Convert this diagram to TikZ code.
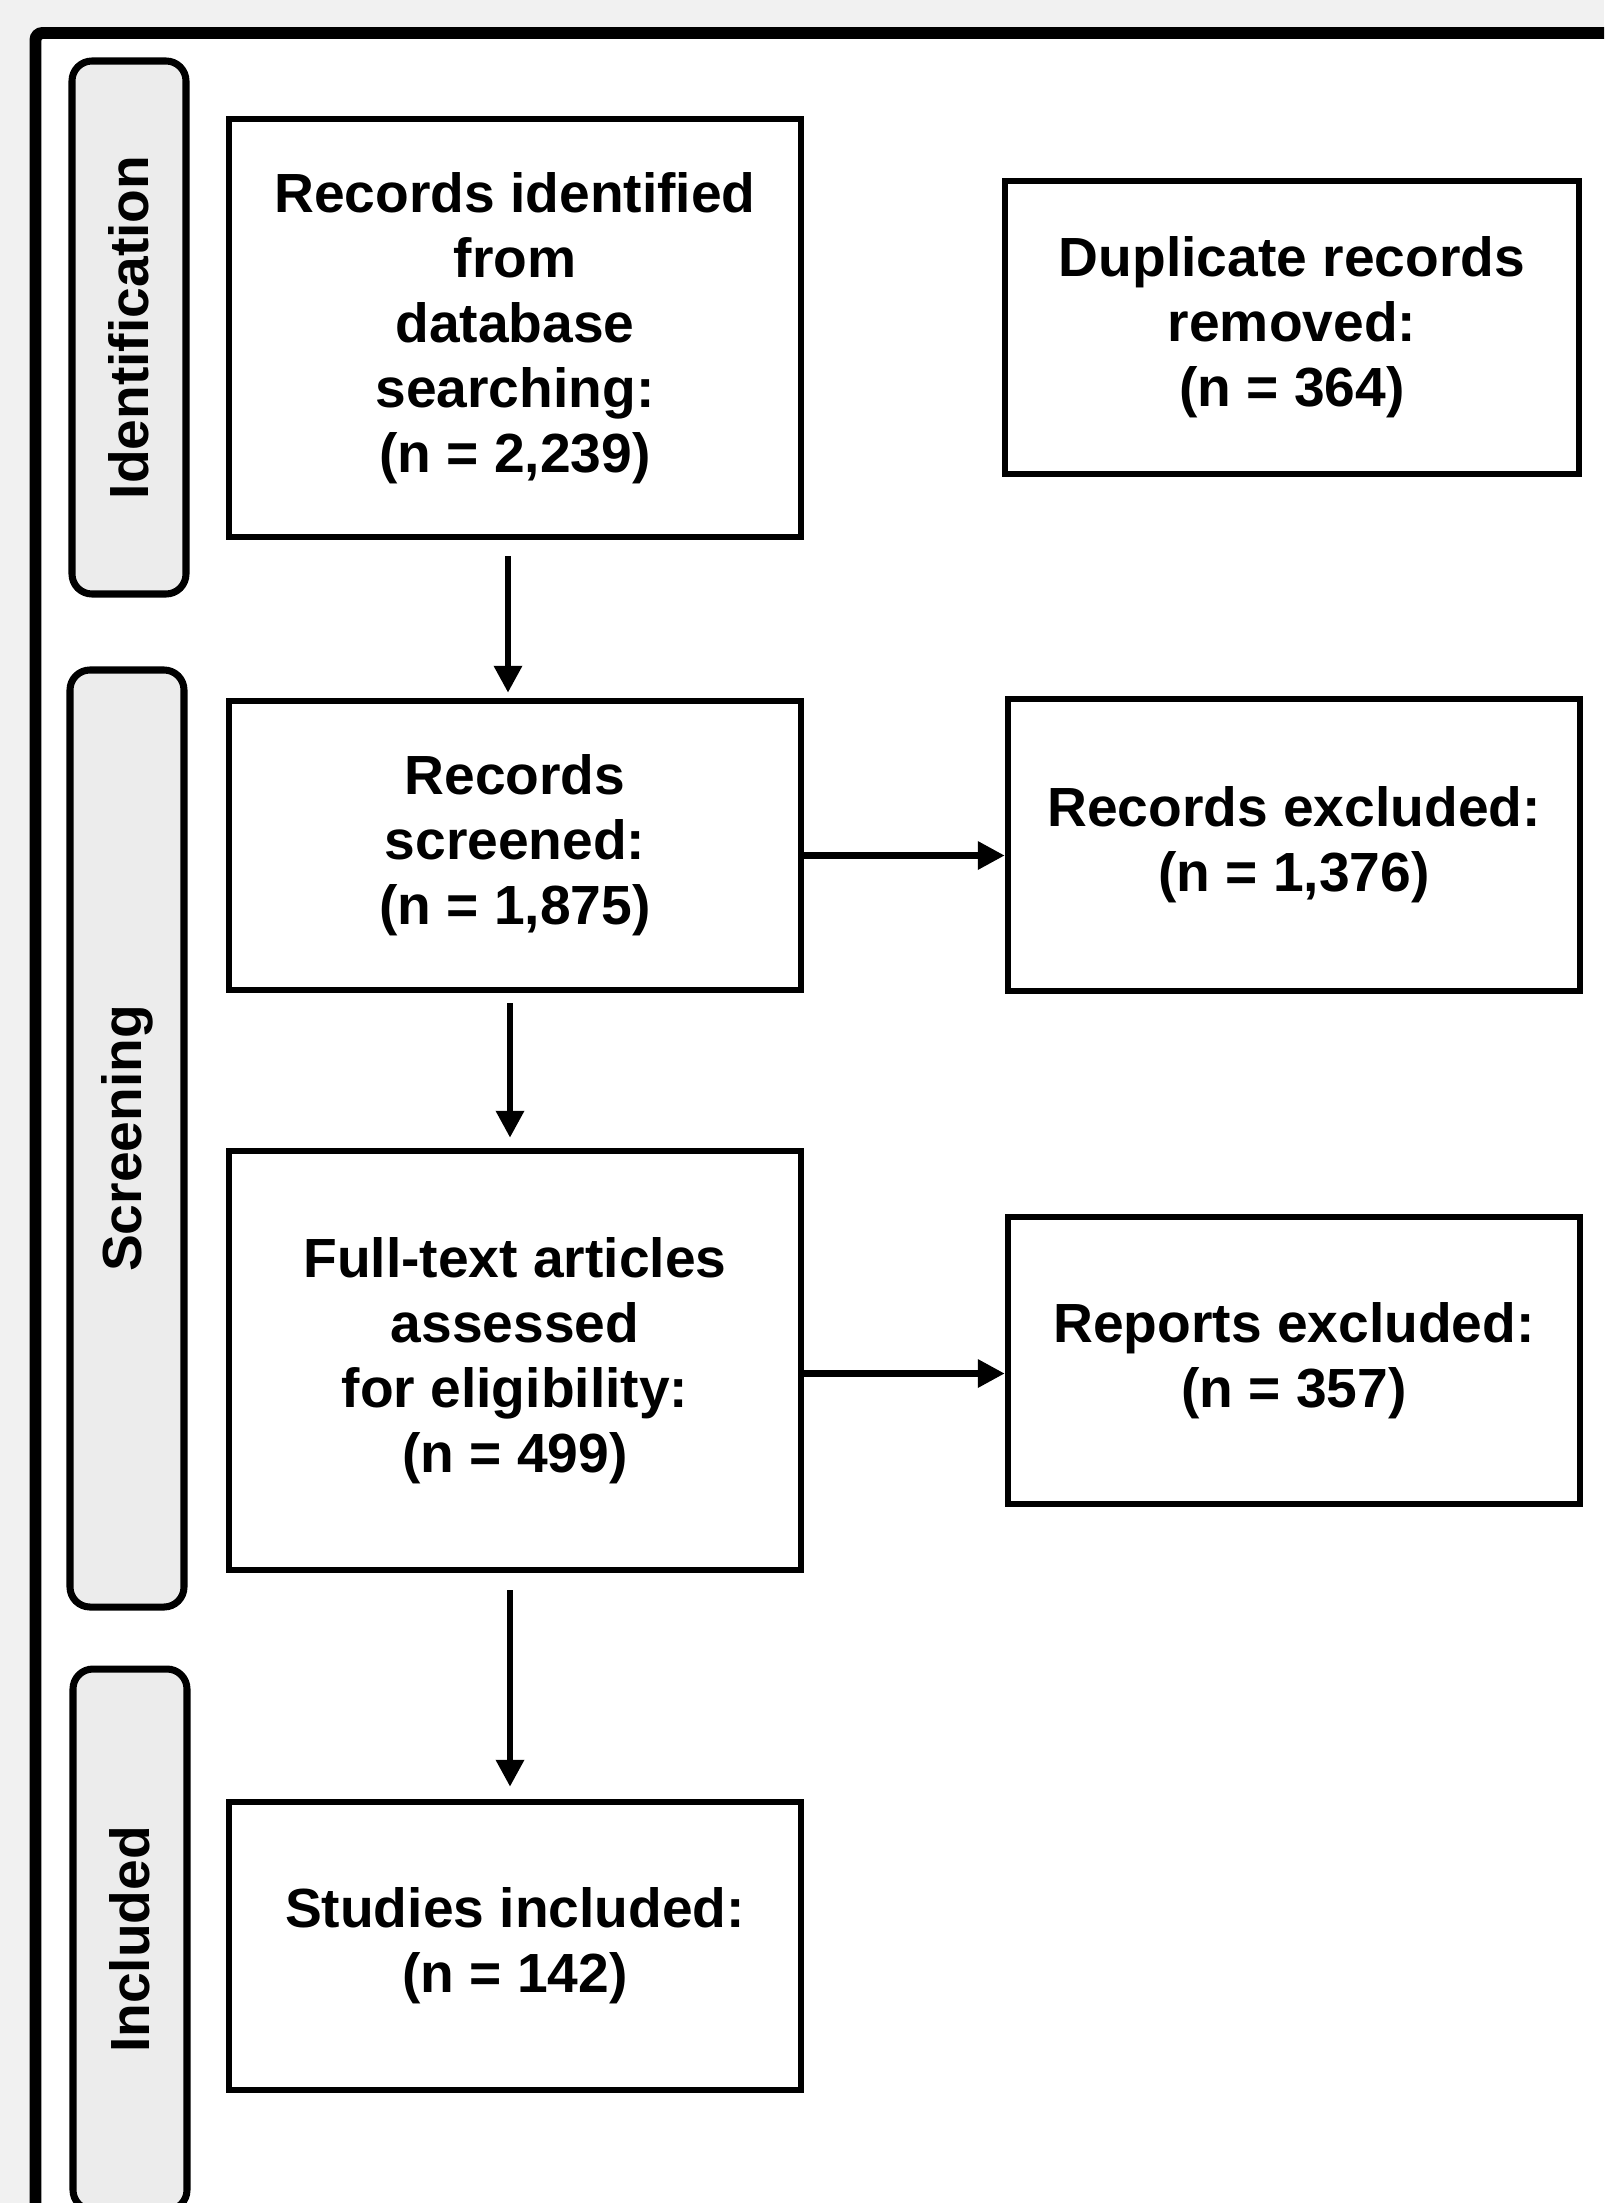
\documentclass[tikz,border=0pt]{standalone}
\usepackage{fontspec}
\setmainfont{Liberation Sans}
\usepackage{tikz}
\usetikzlibrary{
  arrows.meta,
  positioning,
}
\definecolor{pagegray}{HTML}{F1F1F1}
\definecolor{phasegray}{HTML}{ECECEC}

\begin{document}
\begin{tikzpicture}[
  >={Triangle[length=0.27cm,width=0.27cm]},
  box/.style={draw, line width=1.85pt, fill=white, minimum width=5.72cm,
    align=center, inner sep=0pt,
    font=\fontsize{15.7}{18.5}\selectfont\bfseries},
  phase/.style={draw, line width=2pt, fill=phasegray, rounded corners=0.2cm,
    rotate=90, minimum height=1.14cm, inner sep=0pt,
    font=\fontsize{15.7}{18.5}\selectfont\bfseries},
  flow/.style={->, line width=1.85pt},
]
  % Page and frame
  \useasboundingbox (0,0) rectangle (16.04,-22.03);
  \clip (0,0) rectangle (16.04,-22.03);
  \fill[pagegray] (0,0) rectangle (16.04,-22.03);
  \draw[line width=3.4pt, fill=white, rounded corners=2pt]
    (0.355,-0.33) rectangle (17,-23);

  % Phases
  \node[phase, minimum width=5.33cm] (ident) at (1.29,-3.275) {Identification};
  \node[phase, minimum width=9.37cm] (screen) at (1.27,-11.385) {Screening};
  \node[phase, minimum width=5.41cm] (incl) at (1.30,-19.395) {Included};

  % Left column
  \node[box, minimum height=4.18cm] (ident1) at (5.15,-3.28)
    {Records identified\\from\\database\\searching:\\(n = 2,239)};
  \node[box, minimum height=2.89cm] (screen1) at (5.15,-8.455)
    {Records\\screened:\\(n = 1,875)};
  \node[box, minimum height=4.19cm] (full1) at (5.15,-13.605)
    {Full-text articles\\assessed\\for eligibility:\\(n = 499)};
  \node[box, minimum height=2.88cm] (incl1) at (5.15,-19.46)
    {Studies included:\\(n = 142)};

  % Right column
  \node[box, minimum width=5.74cm, minimum height=2.93cm] (dup) at (12.92,-3.275)
    {Duplicate records\\removed:\\(n = 364)};
  \node[box, minimum height=2.92cm] (recex) at (12.94,-8.45)
    {Records excluded:\\(n = 1,376)};
  \node[box, minimum height=2.87cm] (repex) at (12.94,-13.605)
    {Reports excluded:\\(n = 357)};

  % Arrows
  \draw[flow, shorten <=0.16cm, shorten >=0.05cm]
    ([xshift=-0.07cm]ident1.south) -- ([xshift=-0.07cm]screen1.north);
  \draw[flow, shorten <=0.1cm, shorten >=0.1cm]
    ([xshift=-0.05cm]screen1.south) -- ([xshift=-0.05cm]full1.north);
  \draw[flow, shorten <=0.17cm, shorten >=0.12cm]
    ([xshift=-0.05cm]full1.south) -- ([xshift=-0.05cm]incl1.north);
  \draw[flow] ([yshift=-0.1cm]screen1.east) -- ([yshift=-0.1cm]screen1.east -| recex.west);
  \draw[flow] ([yshift=-0.13cm]full1.east) -- ([yshift=-0.13cm]full1.east -| repex.west);

\end{tikzpicture}
\end{document}
